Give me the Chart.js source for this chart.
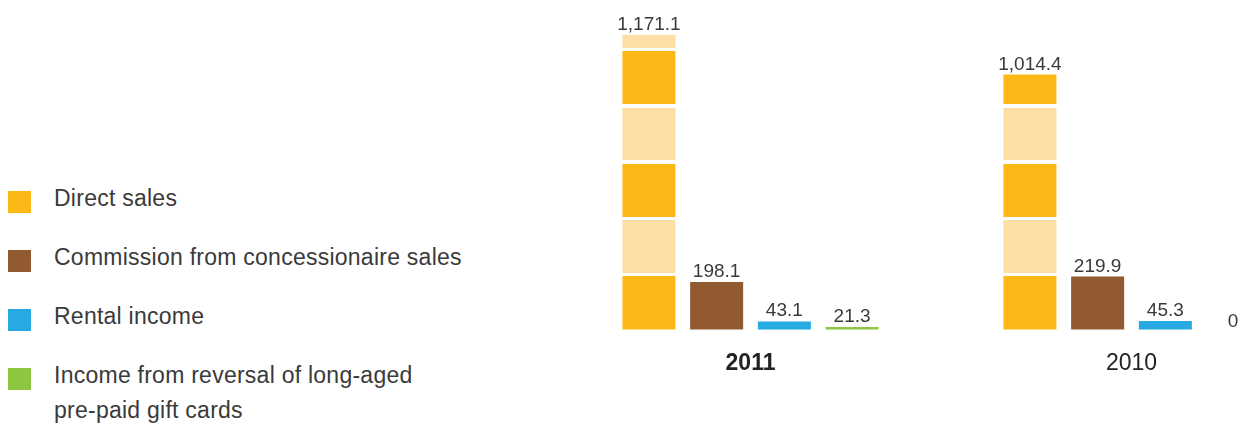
<!DOCTYPE html>
<html>
<head>
<meta charset="utf-8">
<script src="https://cdn.jsdelivr.net/npm/chart.js@4/dist/chart.umd.min.js"></script>
<style>
  html, body { margin: 0; padding: 0; background: #fff; overflow: hidden; }
  body { width: 1238px; height: 424px; position: relative; font-family: 'Liberation Sans', Arial, sans-serif; }
  #legend { position: absolute; left: 0; top: 0; }
  .item { position: absolute; left: 0; width: 480px; }
  .item .box { position: absolute; left: 8px; top: 10px; width: 23px; height: 22px; }
  .item .txt { position: absolute; left: 54px; font-size: 23px; line-height: 35px; color: #3a3a3a; letter-spacing: 0.25px; white-space: nowrap; }
  #wrap { position: absolute; left: 560px; top: 2px; width: 762px; height: 395px; }
</style>
</head>
<body>
<div id="legend"></div>
<div id="wrap"><canvas id="revenueChart"></canvas></div>
<script>
// revenue breakdown, HK$ million
const years = ['2011', '2010'];
const seriesNames = [
  'Direct sales',
  'Commission from concessionaire sales',
  'Rental income',
  'Income from reversal of long-aged\npre-paid gift cards'
];
const directSales = [1171.1, 1014.4];
const commission = [198.1, 219.9];
const rentalIncome = [43.1, 45.3];
const giftCardReversal = [21.3, 0];

const ORANGE = '#fbb817';
const ORANGE_LIGHT = '#fddea6';
const seriesColors = [ORANGE, '#925a30', '#26aae1', '#8dc63f'];
const FONT = "'Liberation Sans', Arial, sans-serif";

// legend rows on the left
const legendTops = [181, 240, 299, 358];
const legend = document.getElementById('legend');
seriesNames.forEach((name, i) => {
  const row = document.createElement('div');
  row.className = 'item';
  row.style.top = legendTops[i] + 'px';
  const box = document.createElement('div');
  box.className = 'box';
  box.style.background = seriesColors[i];
  const txt = document.createElement('div');
  txt.className = 'txt';
  txt.innerHTML = name.split('\n').join('<br>');
  row.appendChild(box);
  row.appendChild(txt);
  legend.appendChild(row);
});

// direct sales bar is banded: dark / light blocks split by thin white gaps
const BAND = 53, GAP = 3.3;
function bandFill(ctx) {
  const chart = ctx.chart;
  const area = chart.chartArea;
  if (!area) return ORANGE;
  const h = area.bottom - area.top;
  const g = chart.ctx.createLinearGradient(0, area.bottom, 0, area.top);
  let y = 0, i = 0;
  while (y < h) {
    const c = i % 2 ? ORANGE_LIGHT : ORANGE;
    const end = Math.min(y + BAND, h);
    g.addColorStop(y / h, c);
    g.addColorStop(end / h, c);
    if (end < h) {
      const gapEnd = Math.min(end + GAP, h);
      g.addColorStop(end / h, '#ffffff');
      g.addColorStop(gapEnd / h, '#ffffff');
    }
    y = end + GAP;
    i++;
  }
  return g;
}

const fmt = (v) => v === 0 ? '0' : v.toLocaleString('en-US', { minimumFractionDigits: 1, maximumFractionDigits: 1 });

// value labels above each bar
const valueLabels = {
  id: 'valueLabels',
  afterDatasetsDraw(chart) {
    const ctx = chart.ctx;
    ctx.save();
    ctx.font = '19px ' + FONT;
    ctx.fillStyle = '#3a3a3a';
    ctx.textAlign = 'center';
    ctx.textBaseline = 'alphabetic';
    chart.data.datasets.forEach((ds, di) => {
      chart.getDatasetMeta(di).data.forEach((bar, i) => {
        ctx.fillText(fmt(ds.data[i]), bar.x, bar.y - 5);
      });
    });
    ctx.restore();
  }
};

const seriesData = [directSales, commission, rentalIncome, giftCardReversal];

new Chart(document.getElementById('revenueChart'), {
  type: 'bar',
  data: {
    labels: years,
    datasets: seriesData.map((d, i) => ({
      label: seriesNames[i],
      data: d,
      backgroundColor: i === 0 ? bandFill : seriesColors[i],
      borderWidth: 0,
      barPercentage: 0.783,
      categoryPercentage: 0.711
    }))
  },
  options: {
    responsive: true,
    maintainAspectRatio: false,
    animation: false,
    layout: { padding: 0 },
    plugins: {
      legend: { display: false },
      tooltip: { enabled: false }
    },
    scales: {
      x: {
        grid: { display: false, drawTicks: false },
        border: { display: false },
        ticks: {
          padding: 20,
          color: '#222',
          font: (c) => ({ family: FONT, size: 23, weight: c.index === 0 ? 'bold' : 'normal' })
        }
      },
      y: {
        display: false,
        min: 12,
        max: 1300
      }
    }
  },
  plugins: [valueLabels]
});
</script>
</body>
</html>
